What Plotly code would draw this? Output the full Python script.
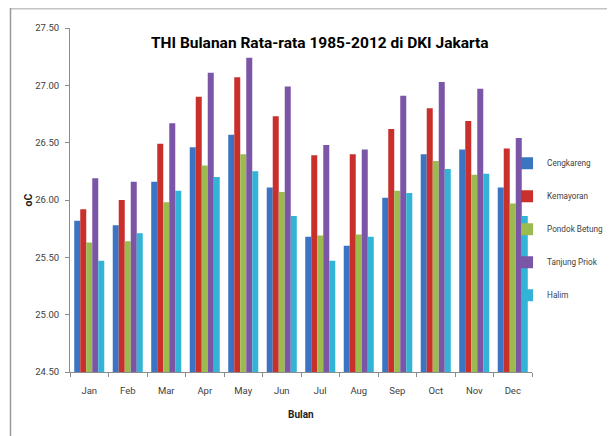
import plotly.graph_objects as go

months = ["Jan", "Feb", "Mar", "Apr", "May", "Jun", "Jul", "Aug", "Sep", "Oct", "Nov", "Dec"]
cengkareng = [25.82, 25.78, 26.16, 26.46, 26.57, 26.11, 25.68, 25.60, 26.02, 26.40, 26.44, 26.11]
kemayoran = [25.92, 26.00, 26.49, 26.90, 27.07, 26.73, 26.39, 26.40, 26.62, 26.80, 26.69, 26.45]
pondok_betung = [25.63, 25.64, 25.98, 26.30, 26.40, 26.07, 25.69, 25.70, 26.08, 26.34, 26.22, 25.97]
tanjung_priok = [26.19, 26.16, 26.67, 27.11, 27.24, 26.99, 26.48, 26.44, 26.91, 27.03, 26.97, 26.54]
halim = [25.47, 25.71, 26.08, 26.20, 26.25, 25.86, 25.47, 25.68, 26.06, 26.27, 26.23, 25.86]
y_ticks = [24.5, 25.0, 25.5, 26.0, 26.5, 27.0, 27.5]

series = [
    ("Cengkareng", cengkareng, "#3b74c2"),
    ("Kemayoran", kemayoran, "#c9302c"),
    ("Pondok Betung", pondok_betung, "#9bbb4f"),
    ("Tanjung Priok", tanjung_priok, "#7b55a6"),
    ("Halim", halim, "#33b3d5"),
]

TFONT = "Roboto, sans-serif"

fig = go.Figure()
for i, (name, vals, col) in enumerate(series):
    fig.add_trace(go.Bar(x=months, y=vals, name=name, marker_color=col,
                         marker_line_width=0, legendgroup=str(i)))

# page body has an 8px margin; the figure is offset by 8px inside the 615x436 window
fig.update_layout(
    width=607, height=428,
    margin=dict(l=62, r=83, t=20, b=64, autoexpand=False),
    paper_bgcolor="white", plot_bgcolor="white",
    barmode="group", bargap=0.22, bargroupgap=0,
    font=dict(family=TFONT, size=9.5, color="#404040"),
    showlegend=True,
    legend=dict(x=0.946, y=0.649, xanchor="left", yanchor="top",
                bgcolor="rgba(0,0,0,0)", borderwidth=0,
                font=dict(family=TFONT, size=8.2, color="#404040"),
                tracegroupgap=14, itemwidth=30),
)
fig.update_yaxes(range=[24.5, 27.5], tickvals=y_ticks, tickformat=".2f",
                 showgrid=False, showline=True, linecolor="#8c8c8c", linewidth=1,
                 ticks="outside", ticklen=4, tickcolor="#8c8c8c", zeroline=False,
                 ticklabelstandoff=4)
fig.update_xaxes(showgrid=False, showline=True, linecolor="#8c8c8c", linewidth=1,
                 ticks="outside", ticklen=4, tickcolor="#8c8c8c", tickson="boundaries",
                 ticklabelstandoff=10)

fig.add_annotation(text="<b>THI Bulanan Rata-rata 1985-2012 di DKI Jakarta</b>",
                   xref="paper", yref="paper", x=0.541, y=0.956, showarrow=False,
                   xanchor="center", yanchor="middle",
                   font=dict(family=TFONT, size=15.5, color="#000000"))
fig.add_annotation(text="<b>oC</b>", xref="paper", yref="paper", x=-0.09, y=0.5,
                   xanchor="center", yanchor="middle",
                   textangle=-90, showarrow=False, font=dict(family=TFONT, size=10.5, color="#202020"))
fig.add_annotation(text="<b>Bulan</b>", xref="paper", yref="paper", x=0.5, y=-0.123,
                   xanchor="center", yanchor="middle",
                   showarrow=False, font=dict(family=TFONT, size=10, color="#202020"))

# outer chart frame (top and left edges visible)
fig.add_shape(type="line", xref="paper", yref="paper", x0=-0.129, x1=1.2, y0=1.058, y1=1.058,
              line=dict(color="#c4c4c4", width=3))
fig.add_shape(type="line", xref="paper", yref="paper", x0=-0.1288, x1=-0.1288, y0=-0.2, y1=1.058,
              line=dict(color="#9a9a9a", width=1.5))

fig.write_html("out.html")
